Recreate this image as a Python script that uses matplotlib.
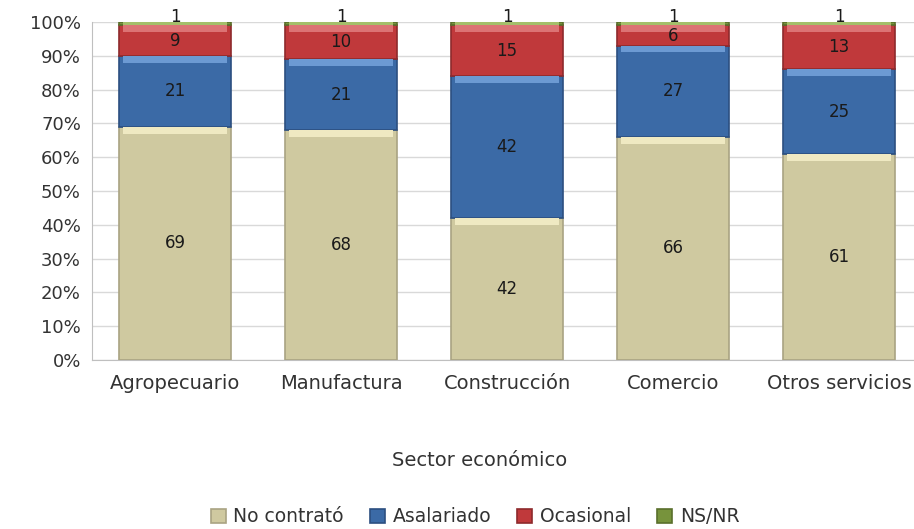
import numpy as np
import matplotlib.pyplot as plt
from matplotlib.ticker import PercentFormatter

# data (percent of firms per sector)
sectors = ['Agropecuario', 'Manufactura', 'Construcción', 'Comercio', 'Otros servicios']
no_contrato = [69, 68, 42, 66, 61]
asalariado = [21, 21, 42, 27, 25]
ocasional = [9, 10, 15, 6, 13]
ns_nr = [1, 1, 1, 1, 1]

series = [('No contrató', no_contrato, '#cfc9a0', '#a9a383', '#efe9c2'),
          ('Asalariado', asalariado, '#3b6aa6', '#2c4f80', '#6c9ad3'),
          ('Ocasional', ocasional, '#c0393b', '#8e2a2c', '#dc7374'),
          ('NS/NR', ns_nr, '#77933c', '#5a702c', '#a4bf6a')]

fig = plt.figure(figsize=(9.14, 5.29), dpi=100)
ax = fig.add_axes([92 / 914, (529 - 360) / 529, 830 / 914, 338 / 529])

x = np.arange(len(sectors))
w = 0.68
bottom = np.zeros(len(sectors))
handles = []
for name, vals, col, edge, light in series:
    vals = np.array(vals, dtype=float)
    b = ax.bar(x, vals, w, bottom=bottom, color=col, edgecolor=edge, linewidth=1.2, label=name, zorder=3)
    handles.append(b)
    # light bevel strip at the top of each segment
    strip = np.minimum(vals, 2.0)
    ax.bar(x, strip, w * 0.92, bottom=bottom + vals - strip, color=light, linewidth=0, zorder=4)
    for xi, v, b0 in zip(x, vals, bottom):
        if name == 'NS/NR':
            ax.text(xi, b0 + v + 1.5, '%d' % v, ha='center', va='center', fontsize=12, color='#1a1a1a', zorder=5)
        else:
            ax.text(xi, b0 + v / 2, '%d' % v, ha='center', va='center', fontsize=12, color='#1a1a1a', zorder=5)
    bottom += vals

ax.set_xlim(-0.5, len(sectors) - 0.5)
ax.set_ylim(0, 100)
ax.set_yticks(np.arange(0, 101, 10))
ax.yaxis.set_major_formatter(PercentFormatter(decimals=0))
ax.set_xticks(x)
ax.set_xticklabels(sectors, fontsize=14, color='#333333')
ax.tick_params(axis='y', labelsize=13, colors='#333333', length=0, pad=8)
ax.tick_params(axis='x', length=0, pad=10)
ax.grid(axis='y', color='#d9d9d9', linewidth=1, zorder=0)
for s in ['top', 'right']:
    ax.spines[s].set_visible(False)
ax.spines['left'].set_color('#bfbfbf')
ax.spines['bottom'].set_color('#bfbfbf')

fig.text(480 / 914, 1 - 461 / 529, 'Sector económico', ha='center', va='center', fontsize=14, color='#333333')
fig.legend(handles=handles, labels=[s[0] for s in series], loc='center', bbox_to_anchor=(475 / 914, 1 - 517 / 529),
           ncol=4, frameon=False, fontsize=13.5, handlelength=0.8, handleheight=0.8, columnspacing=1.4,
           handletextpad=0.4, labelcolor='#333333')

plt.savefig('out.png', dpi=100)
